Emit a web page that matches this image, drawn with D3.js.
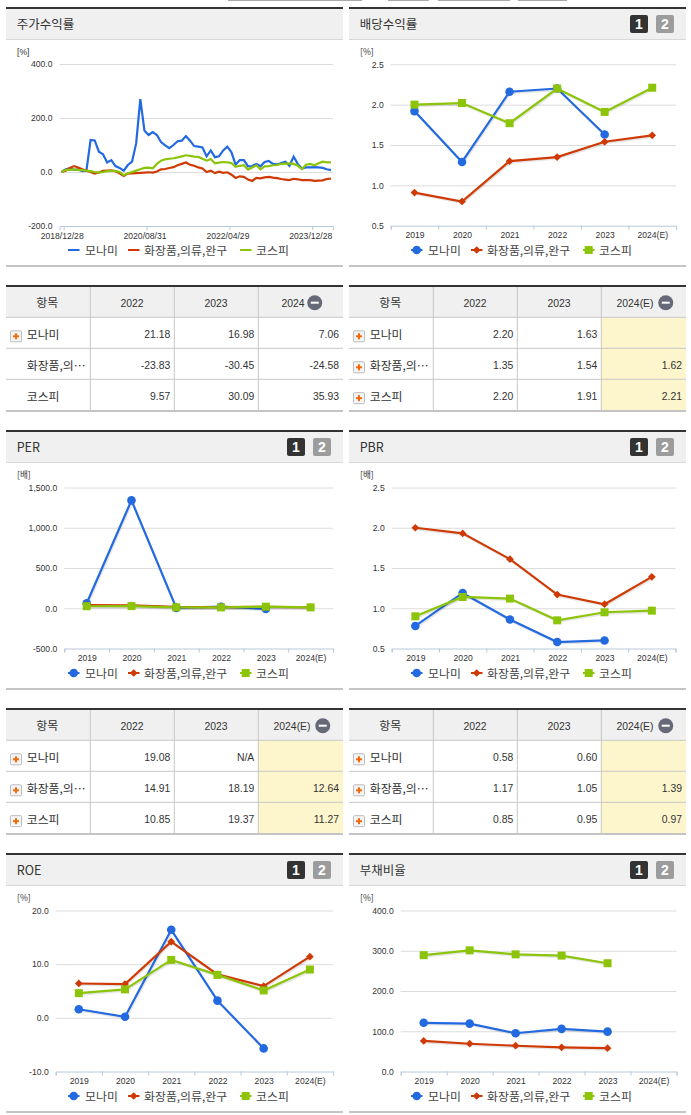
<!DOCTYPE html>
<html>
<head>
<meta charset="utf-8">
<script src="https://cdn.jsdelivr.net/npm/d3@7"></script>
<style>
  body { margin: 0; background: #fff; }
  svg { display: block; }
  text { font-family: "Liberation Sans", sans-serif; fill: #333; }
  .kr { font-family: "Noto Sans CJK KR", sans-serif; }
</style>
</head>
<body>
<div id="chart"></div>
<script>
var seriesNames = ["모나미", "화장품,의류,완구", "코스피"];
var seriesColors = ["#2369e0", "#cf3a04", "#8cc40a"];
var years = ["2019", "2020", "2021", "2022", "2023", "2024(E)"];

// monthly price return, 2018/12 .. 2024/05
var priceTickLabels = ["2018/12/28", "2020/08/31", "2022/04/29", "2023/12/28"];
var priceMonami = [0, 10, 13, 8, 10, 3, 5, 119, 117, 75, 66, 35, 44, 22, 15, 5, 26, 38, 106, 270, 153, 137, 148, 137, 111, 99, 88, 100, 114, 116, 133, 116, 96, 94, 91, 58, 80, 55, 58, 80, 94, 73, 27, 44, 44, 21, 22, 30, 21.18, 37, 41, 30, 28, 33, 38, 23, 57, 30, 13, 17, 16.98, 18, 17, 15, 10, 7.06];
var priceSector = [0, 5, 15, 22, 17, 10, 5, 0, -6, -2, 4, 5, 6, 3, -5, -15, -6, -5, -4, -3, -2, -1, -2, 2, 10, 11, 15, 18, 25, 30, 35, 27, 23, 17, 13, 0, 5, -4, 1, -3, -1, -10, -22, -16, -18, -28, -33, -22, -23.83, -20, -18, -21, -23, -26, -28, -30, -25, -27, -30, -30, -30.45, -33, -32, -31, -26, -24.58];
var priceKospi = [0, 8, 8, 10, 7, 7, 5, 3, 0, -2, 0, 3, 4, 4, 0, -12, -5, 0, 5, 10, 15, 16, 14, 30, 42, 47, 49, 51, 54, 58, 62, 60, 57, 56, 49, 42, 48, 32, 35, 37, 36, 33, 19, 23, 25, 9, 17, 25, 9.57, 21, 22, 25, 26, 30, 31, 32, 30, 23, 11, 27, 30.09, 25, 32, 38, 36, 35.93];

var dividendMonami = [1.92, 1.29, 2.16, 2.20, 1.63, null];
var dividendSector = [0.91, 0.80, 1.30, 1.35, 1.54, 1.62];
var dividendKospi = [2.00, 2.02, 1.77, 2.20, 1.91, 2.21];

var perMonami = [62, 1340, 5, 19.08, -8, null];
var perSector = [40, 35, 18, 14.91, 18.19, 12.64];
var perKospi = [25, 27, 12, 10.85, 19.37, 11.27];

var pbrMonami = [0.78, 1.19, 0.86, 0.58, 0.60, null];
var pbrSector = [2.00, 1.93, 1.61, 1.17, 1.05, 1.39];
var pbrKospi = [0.90, 1.14, 1.12, 0.85, 0.95, 0.97];

var roeMonami = [1.6, 0.2, 16.4, 3.2, -5.7, null];
var roeSector = [6.4, 6.3, 14.2, 8.1, 5.9, 11.4];
var roeKospi = [4.6, 5.3, 10.8, 8.0, 5.1, 9.0];

var debtMonami = [121, 119, 95, 106, 99, null];
var debtSector = [76, 69, 64, 60, 58, null];
var debtKospi = [289, 301, 291, 288, 269, null];

var rowNames = ["모나미", "화장품,의⋯", "코스피"];
var priceHead = ["2022", "2023", "2024"];
var estHead = ["2022", "2023", "2024(E)"];
var priceRows = [["21.18", "16.98", "7.06"], ["-23.83", "-30.45", "-24.58"], ["9.57", "30.09", "35.93"]];
var dividendRows = [["2.20", "1.63", ""], ["1.35", "1.54", "1.62"], ["2.20", "1.91", "2.21"]];
var perRows = [["19.08", "N/A", ""], ["14.91", "18.19", "12.64"], ["10.85", "19.37", "11.27"]];
var pbrRows = [["0.58", "0.60", ""], ["1.17", "1.05", "1.39"], ["0.85", "0.95", "0.97"]];

var svg = d3.select("#chart").append("svg").attr("width", 691).attr("height", 1115);

var fmt = function(d) { return d3.format(",.1f")(d).replace("−", "-"); };

// cut off bits of the tab row at the very top
[[228, 362], [388, 429], [438, 510], [518, 567]].forEach(function(t) {
    svg.append("rect").attr("x", t[0]).attr("y", 0).attr("width", t[1] - t[0]).attr("height", 1).attr("fill", "#aaa");
});

function panelFrame(x0, y0, title, hasButtons) {
    var w = 337;
    svg.append("rect").attr("x", x0).attr("y", y0 + 2).attr("width", w).attr("height", 30).attr("fill", "#f0f0f0");
    svg.append("rect").attr("x", x0).attr("y", y0).attr("width", w).attr("height", 2).attr("fill", "#333");
    svg.append("rect").attr("x", x0).attr("y", y0 + 32).attr("width", w).attr("height", 1).attr("fill", "#d8d8d8");
    svg.append("rect").attr("x", x0).attr("y", y0 + 258).attr("width", w).attr("height", 2).attr("fill", "#c4c4c4");
    svg.append("text").attr("class", "kr").attr("x", x0 + 10.7).attr("y", y0 + 21.5)
        .attr("font-size", 12.5).text(title);
    if (hasButtons) {
        [["1", "#333", 281], ["2", "#9c9c9c", 307]].forEach(function(b) {
            svg.append("rect").attr("x", x0 + b[2]).attr("y", y0 + 8).attr("width", 18).attr("height", 18)
                .attr("rx", 2).attr("fill", b[1]);
            svg.append("text").attr("x", x0 + b[2] + 9).attr("y", y0 + 22).attr("text-anchor", "middle")
                .attr("font-size", 14).attr("font-weight", "bold").style("fill", "#fff").text(b[0]);
        });
    }
}

function yAxis(g, y, ticks, x0, x1) {
    var ax = g.append("g").attr("transform", "translate(" + x0 + ",0)")
        .call(d3.axisLeft(y).tickValues(ticks).tickFormat(fmt)
            .tickSizeInner(-(x1 - x0)).tickSizeOuter(0).tickPadding(7));
    ax.select(".domain").remove();
    ax.selectAll("line").attr("stroke", "#dcdcdc");
    ax.selectAll("text").attr("font-size", 8.6).attr("font-family", null);
    ax.selectAll(".tick").filter(function(d) { return d === y.domain()[0]; }).select("line").remove();
}

function bottomTicks(g, x0, x1, yPos, count, values, labels) {
    var lin = d3.scaleLinear().domain([0, count]).range([x0, x1]);
    var ax = g.append("g").attr("transform", "translate(0," + yPos + ")")
        .call(d3.axisBottom(lin).tickValues(values).tickSizeOuter(4).tickSize(4).tickPadding(3)
            .tickFormat(function(d, i) { return labels ? labels[i] : ""; }));
    ax.selectAll("path,line").attr("stroke", "#b9c8dc");
    ax.selectAll("text").attr("font-size", 8.6).attr("dx", labels ? -2 : 0);
    return lin;
}

function legend(x0, y0, markers) {
    var lineX = [68, 128, 240], textX = [85, 144, 256];
    seriesNames.forEach(function(name, i) {
        var lx = x0 - 6 + lineX[i];
        svg.append("line").attr("x1", lx).attr("x2", lx + 11.5).attr("y1", y0 + 243).attr("y2", y0 + 243)
            .attr("stroke", seriesColors[i]).attr("stroke-width", 2);
        if (markers) drawMarker(svg, i, lx + 5.7, y0 + 243);
        svg.append("text").attr("class", "kr").attr("x", x0 - 6 + textX[i]).attr("y", y0 + 247.5)
            .attr("font-size", 11.9).style("fill", "#444").text(name);
    });
}

function drawMarker(g, i, cx, cy) {
    if (i === 0) {
        g.append("circle").attr("cx", cx).attr("cy", cy).attr("r", 4.3).attr("fill", seriesColors[0]);
    } else if (i === 1) {
        g.append("path").attr("d", d3.symbol(d3.symbolSquare, 30)())
            .attr("transform", "translate(" + cx + "," + cy + ") rotate(45)").attr("fill", seriesColors[1]);
    } else {
        g.append("path").attr("d", d3.symbol(d3.symbolSquare, 64)())
            .attr("transform", "translate(" + cx + "," + cy + ")").attr("fill", seriesColors[2]);
    }
}

function drawPriceChart(x0, y0) {
    var g = svg.append("g");
    panelFrame(x0, y0, "주가수익률", false);
    var plot = [59.5, 333];
    var y = d3.scaleLinear().domain([-200, 400]).range([y0 + 219, y0 + 57]);
    yAxis(g, y, [-200, 0, 200, 400], plot[0], plot[1]);
    var n = priceMonami.length;
    var x = bottomTicks(g, plot[0], plot[1], y0 + 219, n, [1, 21, 41, 61], priceTickLabels);
    var line = d3.line().x(function(d, i) { return x(i + 0.5); }).y(function(d) { return y(d); });
    [priceMonami, priceSector, priceKospi].forEach(function(vals, i) {
        g.append("path").attr("d", line(vals)).attr("fill", "none")
            .attr("stroke", seriesColors[i]).attr("stroke-width", 2.2);
    });
    g.append("text").attr("x", x0 + 11).attr("y", y0 + 48).attr("font-size", 8.6).text("[%]");
    legend(x0, y0, false);
}

function drawLineChart(opt) {
    var x0 = opt.x0, y0 = opt.y0;
    var g = svg.append("g");
    panelFrame(x0, y0, opt.title, true);
    var y = d3.scaleLinear().domain(d3.extent(opt.ticks)).range([opt.yBottom, opt.yTop]);
    yAxis(g, y, opt.ticks, opt.plot[0], opt.plot[1]);
    var x = d3.scaleBand().domain(years).range(opt.plot);
    bottomTicks(g, opt.plot[0], opt.plot[1], opt.yBottom, 6, d3.range(0, 7), null);
    var lab = g.append("g").attr("transform", "translate(0," + opt.yBottom + ")")
        .call(d3.axisBottom(x).tickSize(0).tickPadding(6.5));
    lab.select(".domain").remove();
    lab.selectAll("text").attr("font-size", 8.6).attr("dx", 0.5);

    var cx = function(i) { return x(years[i]) + x.bandwidth() / 2; };
    var line = d3.line().defined(function(d) { return d !== null; })
        .x(function(d, i) { return cx(i); }).y(function(d) { return y(d); });
    opt.series.forEach(function(vals, i) {
        // soft shadow under each line
        g.append("path").attr("d", line(vals)).attr("fill", "none").attr("stroke", "#000")
            .attr("stroke-opacity", 0.1).attr("stroke-width", 2).attr("transform", "translate(1,1.5)");
        g.append("path").attr("d", line(vals)).attr("fill", "none")
            .attr("stroke", seriesColors[i]).attr("stroke-width", 2.2);
    });
    opt.series.forEach(function(vals, i) {
        vals.forEach(function(v, j) {
            if (v !== null) drawMarker(g, i, cx(j), y(v));
        });
    });
    g.append("text").attr("class", "kr").attr("x", x0 + 11).attr("y", opt.yTop - 9.5)
        .attr("font-size", 8.6).text(opt.unit);
    legend(x0, y0, true);
}

function drawTable(x0, y0, head, rows, minusFirst, plainRows, shade) {
    var w = 337, cols = [0, 84.3, 168.3, 252.3, w];
    var rowY = [2, 32.3, 63.3, 94.3, 125];
    var g = svg.append("g");
    g.append("rect").attr("x", x0).attr("y", y0 + rowY[0]).attr("width", w).attr("height", rowY[1] - rowY[0]).attr("fill", "#f0f0f0");
    if (shade) {
        g.append("rect").attr("x", x0 + cols[3]).attr("y", y0 + rowY[1]).attr("width", w - cols[3])
            .attr("height", rowY[4] - rowY[1]).attr("fill", "#fdf6cd");
    }
    g.append("rect").attr("x", x0).attr("y", y0).attr("width", w).attr("height", 2).attr("fill", "#333");
    [1, 2, 3].forEach(function(i) {
        g.append("rect").attr("x", x0).attr("y", y0 + rowY[i] - 0.5).attr("width", w).attr("height", 1).attr("fill", "#c8c8c8");
    });
    g.append("rect").attr("x", x0).attr("y", y0 + rowY[4]).attr("width", w).attr("height", 2).attr("fill", "#c4c4c4");
    [1, 2, 3].forEach(function(i) {
        g.append("rect").attr("x", x0 + cols[i] - 0.5).attr("y", y0 + 2).attr("width", 1).attr("height", rowY[4] - 2).attr("fill", "#c8c8c8");
    });
    var headY = y0 + 22;
    g.append("text").attr("class", "kr").attr("x", x0 + 41.3).attr("y", headY).attr("text-anchor", "middle")
        .attr("font-size", 11.9).text("항목");
    head.forEach(function(h, i) {
        var last = i === 2;
        var hw = h.length > 4 ? 38.5 : 22.5;
        var mid = cols[i + 1] + 42 - (last ? (h.length > 4 ? 8 : 7) : 0) - 0.3;
        g.append("text").attr("x", x0 + mid).attr("y", headY - 0.5).attr("text-anchor", "middle")
            .attr("font-size", 10.4).text(h);
        if (last) {
            var cx = x0 + mid + hw / 2 + (h.length > 4 ? 11.5 : 10.5), cy = y0 + 17.7;
            g.append("circle").attr("cx", cx).attr("cy", cy).attr("r", 7.5).attr("fill", "#666a78");
            g.append("rect").attr("x", cx - 4).attr("y", cy - 1).attr("width", 8).attr("height", 2).attr("fill", "#fff");
        }
    });
    rows.forEach(function(r, ri) {
        var top = rowY[ri + 1], mid = y0 + (top + rowY[ri + 2]) / 2;
        g.append("text").attr("class", "kr").attr("x", x0 + 20.7).attr("y", mid + 6).attr("font-size", 11.9)
            .text(rowNames[ri]);
        if (plainRows.indexOf(ri) < 0) {
            var bx = x0 + 4.5, by = mid - 2;
            g.append("rect").attr("x", bx).attr("y", by).attr("width", 11).attr("height", 11).attr("rx", 1)
                .attr("fill", "#f4f4f4").attr("stroke", "#bdbdbd");
            g.append("rect").attr("x", bx + 2.5).attr("y", by + 4.5).attr("width", 6).attr("height", 2).attr("fill", "#f26a0c");
            g.append("rect").attr("x", bx + 4.5).attr("y", by + 2.5).attr("width", 2).attr("height", 6).attr("fill", "#f26a0c");
        }
        r.forEach(function(v, ci) {
            g.append("text").attr("x", x0 + cols[ci + 2] - 4).attr("y", mid + 5.5).attr("text-anchor", "end")
                .attr("font-size", 10.4).text(v);
        });
    });
}

var colA = 6, colB = 349;

drawPriceChart(colA, 7);
drawLineChart({ x0: colB, y0: 7, title: "배당수익률", unit: "[%]", ticks: [0.5, 1, 1.5, 2, 2.5],
    plot: [390.7, 676], yTop: 64.3, yBottom: 225.7, series: [dividendMonami, dividendSector, dividendKospi] });
drawTable(colA, 285, priceHead, priceRows, true, [1, 2], false);
drawTable(colB, 285, estHead, dividendRows, true, [], true);

drawLineChart({ x0: colA, y0: 430, title: "PER", unit: "[배]", ticks: [-500, 0, 500, 1000, 1500],
    plot: [64.3, 333], yTop: 487.5, yBottom: 648.5, series: [perMonami, perSector, perKospi] });
drawLineChart({ x0: colB, y0: 430, title: "PBR", unit: "[배]", ticks: [0.5, 1, 1.5, 2, 2.5],
    plot: [391.7, 675.5], yTop: 487.5, yBottom: 648.5, series: [pbrMonami, pbrSector, pbrKospi] });
drawTable(colA, 708, estHead, perRows, true, [], true);
drawTable(colB, 708, estHead, pbrRows, true, [], true);

drawLineChart({ x0: colA, y0: 853, title: "ROE", unit: "[%]", ticks: [-10, 0, 10, 20],
    plot: [55.7, 333], yTop: 910.5, yBottom: 1071.5, series: [roeMonami, roeSector, roeKospi] });
drawLineChart({ x0: colB, y0: 853, title: "부채비율", unit: "[%]", ticks: [0, 100, 200, 300, 400],
    plot: [400.7, 676.5], yTop: 910.5, yBottom: 1071.5, series: [debtMonami, debtSector, debtKospi] });
</script>
</body>
</html>
